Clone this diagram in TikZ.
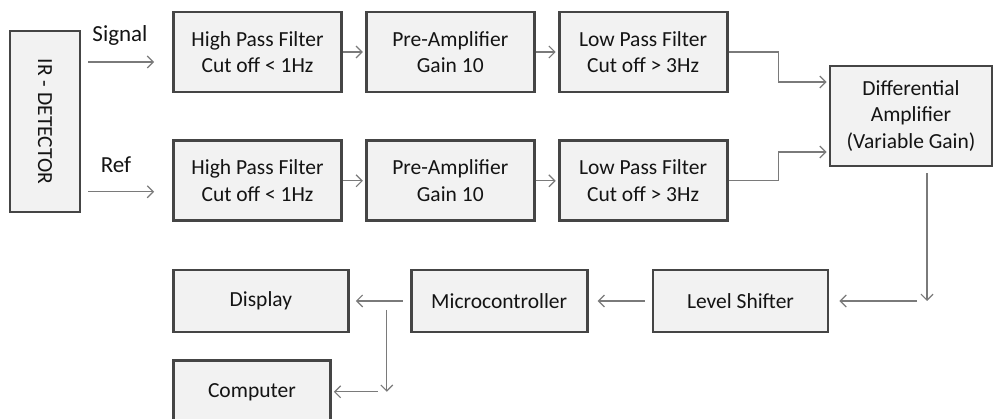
\documentclass[tikz,border=0pt]{standalone}
\usepackage{fontspec}
\setmainfont{Carlito}
\usepackage{tikz}
\usetikzlibrary{positioning,arrows.meta}
\definecolor{boxfill}{HTML}{F2F2F2}
\definecolor{boxline}{HTML}{454545}
\definecolor{arrline}{HTML}{7A7A7A}
\definecolor{txt}{HTML}{141414}

\begin{document}
\begin{tikzpicture}[x=1pt, y=1pt,
                    block/.style={draw=boxline, fill=boxfill, line width=2.8pt, align=center,
                                  text=txt, font=\fontsize{21.5}{26.5}\selectfont,
                                  minimum width=168pt, minimum height=80pt, inner sep=2pt},
                    small/.style={block, minimum width=175pt, minimum height=62pt},
                    arr/.style={draw=arrline, line width=1.2pt,
                                -{Straight Barb[length=6pt, width=12pt]}},
                    lbl/.style={text=txt, font=\fontsize{23}{27}\selectfont}]
    \useasboundingbox (0,0) rectangle (994,418);
    \node[block, minimum width=181pt, minimum height=70pt, rotate=-90] (ir) at (45,296.5) {IR - DETECTOR};
    \node[block] (hpfA) at (257.5,366) {High Pass Filter\\Cut off < 1Hz};
    \node[block, right=22pt of hpfA] (preA) {Pre-Amplifier\\Gain 10};
    \node[block, right=22pt of preA] (lpfA) {Low Pass Filter\\Cut off > 3Hz};
    \node[block, below=46pt of hpfA] (hpfB) {High Pass Filter\\Cut off < 1Hz};
    \node[block, right=22pt of hpfB] (preB) {Pre-Amplifier\\Gain 10};
    \node[block, right=22pt of preB] (lpfB) {Low Pass Filter\\Cut off > 3Hz};
    \node[block, minimum width=162pt, minimum height=100pt] (diff) at (911,302) {Differential\\Amplifier\\(Variable Gain)};
    \node[small] (lvl) at (740.5,117) {Level Shifter};
    \node[small, minimum width=176pt, left=63pt of lvl] (mcu) {Microcontroller};
    \node[small, left=60pt of mcu] (disp) {Display};
    \node[small, minimum width=157pt, anchor=north west] (comp) at ([yshift=-26pt]disp.south west) {Computer};
    \node[lbl] (sig) at (120,383) {Signal};
    \node[lbl] (ref) at (116,253) {Ref};
    \draw[arr] ([shift={(7pt,-10pt)}]ir.north |- hpfA.west) -- ([shift={(-18pt,-10pt)}]hpfA.west);
    \draw[arr] ([shift={(7pt,-11pt)}]ir.north |- hpfB.west) -- ([shift={(-18pt,-11pt)}]hpfB.west);
    \draw[arr, shorten >=2pt] (hpfA) -- (preA);
    \draw[arr, shorten >=2pt] (preA) -- (lpfA);
    \draw[arr, shorten >=2pt] (hpfB) -- (preB);
    \draw[arr, shorten >=2pt] (preB) -- (lpfB);
    \draw[arr, shorten >=2pt] (lpfA.east) -- ++(50,0) |- ([yshift=34pt]diff.west);
    \draw[arr, shorten >=2pt] (lpfB.east) -- ++(50,0) |- ([yshift=-36pt]diff.west);
    \draw[arr] ([shift={(16pt,-6pt)}]diff.south) -- ([xshift=16pt]diff.south |- lvl.east);
    \draw[arr, shorten >=10pt] ([xshift=6pt]diff.south |- lvl.east) -- (lvl.east);
    \draw[arr, shorten <=7pt, shorten >=9pt] (lvl) -- (mcu);
    \draw[arr, shorten <=7pt, shorten >=6pt] (mcu) -- (disp);
    \draw[arr] ([shift={(-23pt,-9pt)}]mcu.west) -- ([xshift=-23pt]mcu.west |- comp.east);
    \draw[arr, shorten >=2pt] ([xshift=-32pt]mcu.west |- comp.east) -- (comp.east);
\end{tikzpicture}
\end{document}
